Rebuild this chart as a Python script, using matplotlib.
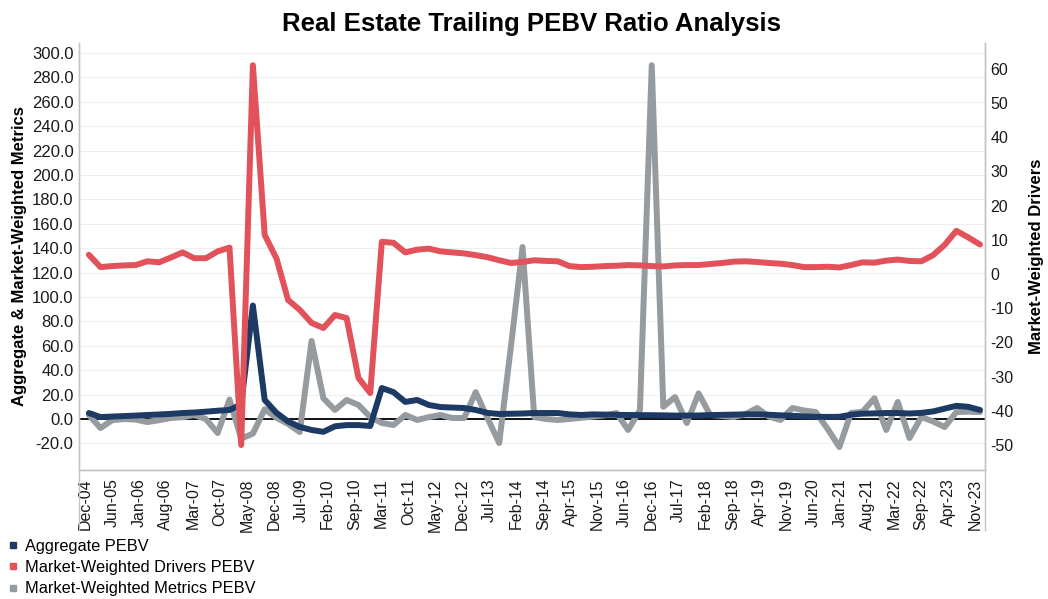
import pandas as pd
import numpy as np
import matplotlib.pyplot as plt
from matplotlib.lines import Line2D

plt.rcParams['font.family'] = ['Liberation Sans', 'DejaVu Sans']
plt.rcParams['axes.unicode_minus'] = False

# quarter-end observations, Dec-04 .. Dec-23
dates = pd.date_range('2005-01-01', periods=77, freq='3MS') - pd.Timedelta(days=1)

aggregate = [4.9, 1.6, 2.0, 2.4, 2.8, 3.3, 3.7, 4.2, 4.9, 5.3,
             6.0, 6.8, 7.4, 12.0, 93.0, 15.6, 5.0, -2.0, -6.5, -9.0,
             -10.5, -6.0, -5.0, -5.0, -5.7, 25.4, 22.0, 14.0, 15.6, 11.5,
             9.8, 9.4, 9.0, 7.4, 5.0, 4.1, 4.3, 4.5, 4.9, 4.9,
             4.9, 3.8, 3.3, 3.8, 3.6, 3.4, 3.3, 3.2, 3.1, 3.0,
             2.8, 2.8, 2.9, 3.2, 3.4, 3.6, 3.8, 3.8, 3.5, 3.0,
             2.6, 2.2, 1.8, 1.7, 1.8, 3.5, 4.4, 4.6, 4.9, 4.9,
             4.5, 5.0, 6.2, 8.5, 10.8, 10.0, 7.4]

drivers = [5.6, 2.0, 2.3, 2.5, 2.6, 3.7, 3.4, 4.8, 6.3, 4.6,
           4.6, 6.6, 7.7, -50.0, 61.0, 11.4, 4.5, -7.6, -10.5, -14.3,
           -15.8, -12.0, -12.9, -30.4, -34.8, 9.4, 9.1, 6.3, 7.1, 7.4,
           6.6, 6.3, 6.0, 5.5, 4.9, 4.0, 3.2, 3.5, 4.0, 3.8,
           3.7, 2.3, 2.0, 2.1, 2.3, 2.4, 2.6, 2.5, 2.3, 2.2,
           2.5, 2.6, 2.6, 2.9, 3.2, 3.6, 3.7, 3.5, 3.2, 3.0,
           2.6, 2.0, 2.0, 2.1, 1.9, 2.6, 3.4, 3.3, 3.9, 4.2,
           3.8, 3.7, 5.5, 8.5, 12.6, 10.7, 8.6]

metrics = [3.3, -7.4, -1.0, 0.0, -0.5, -2.5, -1.0, 0.8, 1.5, 3.3,
           0.0, -11.5, 16.0, -16.0, -12.0, 8.0, 1.0, -4.0, -10.7, 64.0,
           17.0, 7.4, 15.6, 11.5, 1.6, -3.3, -4.9, 3.3, -0.8, 1.5,
           3.3, 0.8, 0.8, 22.0, 1.0, -19.7, 60.0, 141.0, 1.6, 0.0,
           -0.8, 0.0, 1.0, 2.0, 3.0, 4.9, -9.0, 7.4, 290.0, 10.0,
           18.0, -3.3, 21.0, 3.3, 2.5, 1.6, 4.0, 9.0, 2.0, -0.8,
           9.0, 7.0, 5.7, -8.0, -23.0, 4.9, 6.0, 17.0, -9.0, 14.0,
           -15.6, 1.6, -2.0, -6.6, 5.7, 6.0, 5.7]

tick_labels = ['Dec-04', 'Jun-05', 'Jan-06', 'Aug-06', 'Mar-07', 'Oct-07', 'May-08',
               'Dec-08', 'Jul-09', 'Feb-10', 'Sep-10', 'Mar-11', 'Oct-11', 'May-12',
               'Dec-12', 'Jul-13', 'Feb-14', 'Sep-14', 'Apr-15', 'Nov-15', 'Jun-16',
               'Dec-16', 'Jul-17', 'Feb-18', 'Sep-18', 'Apr-19', 'Nov-19', 'Jun-20',
               'Jan-21', 'Aug-21', 'Mar-22', 'Sep-22', 'Apr-23', 'Nov-23']

RED = '#E2525B'
NAVY = '#1C3A64'
GRAY = '#959B9F'
SPINE = '#C4C4C4'

# excel date axis: one label every 210 days
tick_pos = pd.Timestamp('2004-12-01') + pd.to_timedelta(np.arange(len(tick_labels)) * 210, unit='D')

fig = plt.figure(figsize=(10.48, 5.99), dpi=100)
ax1 = fig.add_axes([79/1048, 1 - 470/599, 906/1048, 427/599])
ax2 = ax1.twinx()

ax1.axhline(0, color='black', lw=1.3, zorder=1)
ax1.plot(dates, metrics, color=GRAY, lw=4.3, solid_joinstyle='round', solid_capstyle='round', zorder=2)
ax1.plot(dates, aggregate, color=NAVY, lw=4.3, solid_joinstyle='round', solid_capstyle='round', zorder=3)
ax2.plot(dates, drivers, color=RED, lw=4.3, solid_joinstyle='round', solid_capstyle='round')

ax1.set_xlim(tick_pos[0] - pd.Timedelta(days=47), tick_pos[-1] + pd.Timedelta(days=78))
ax1.set_ylim(-41.8, 308.2)
ax2.set_ylim(-57.3, 67.5)

ax1.set_yticks(np.arange(-20, 301, 20))
ax1.set_yticklabels(['%.1f' % v for v in np.arange(-20, 301, 20)])
ax2.set_yticks(np.arange(-50, 61, 10))
ax1.set_xticks(tick_pos)
ax1.set_xticklabels(tick_labels, rotation=90)

ax1.grid(axis='y', color='#EFEFEF', lw=0.8)
ax1.set_axisbelow(True)

ax1.tick_params(axis='y', length=0, pad=4, labelsize=12, labelcolor='#1a1a1a')
ax1.tick_params(axis='x', length=0, pad=6, labelsize=11.5, labelcolor='#1a1a1a')
ax2.tick_params(axis='y', length=0, pad=4, labelsize=11.5, labelcolor='#1a1a1a')

for ax in (ax1, ax2):
    ax.spines['top'].set_visible(False)
    for s in ('left', 'right', 'bottom'):
        ax.spines[s].set_color(SPINE)
        ax.spines[s].set_linewidth(1.0)

# side lines continue down past the date labels
for xa in (0, 1):
    ax1.plot([xa, xa], [0, -60/427], transform=ax1.transAxes, color=SPINE, lw=1.0, clip_on=False)

ax1.set_title('Real Estate Trailing PEBV Ratio Analysis', fontsize=18.5, fontweight='bold', pad=9)
ax1.set_ylabel('Aggregate & Market-Weighted Metrics', fontsize=12, fontweight='bold')
ax1.yaxis.set_label_coords(-52/906, 0.5)
ax2.set_ylabel('Market-Weighted Drivers', fontsize=12, fontweight='bold')
ax2.yaxis.set_label_coords(1 + 44/906, 0.5)

handles = [Line2D([], [], ls='', marker='s', markersize=5, color=c) for c in (NAVY, RED, GRAY)]
fig.legend(handles, ['Aggregate PEBV', 'Market-Weighted Drivers PEBV', 'Market-Weighted Metrics PEBV'],
           loc='upper left', bbox_to_anchor=(8/1048, 1 - 539/599), frameon=False, fontsize=11.8,
           handlelength=0.6, handletextpad=0.45, labelspacing=0.38, borderpad=0, borderaxespad=0)

fig.savefig('out.png', dpi=100)
